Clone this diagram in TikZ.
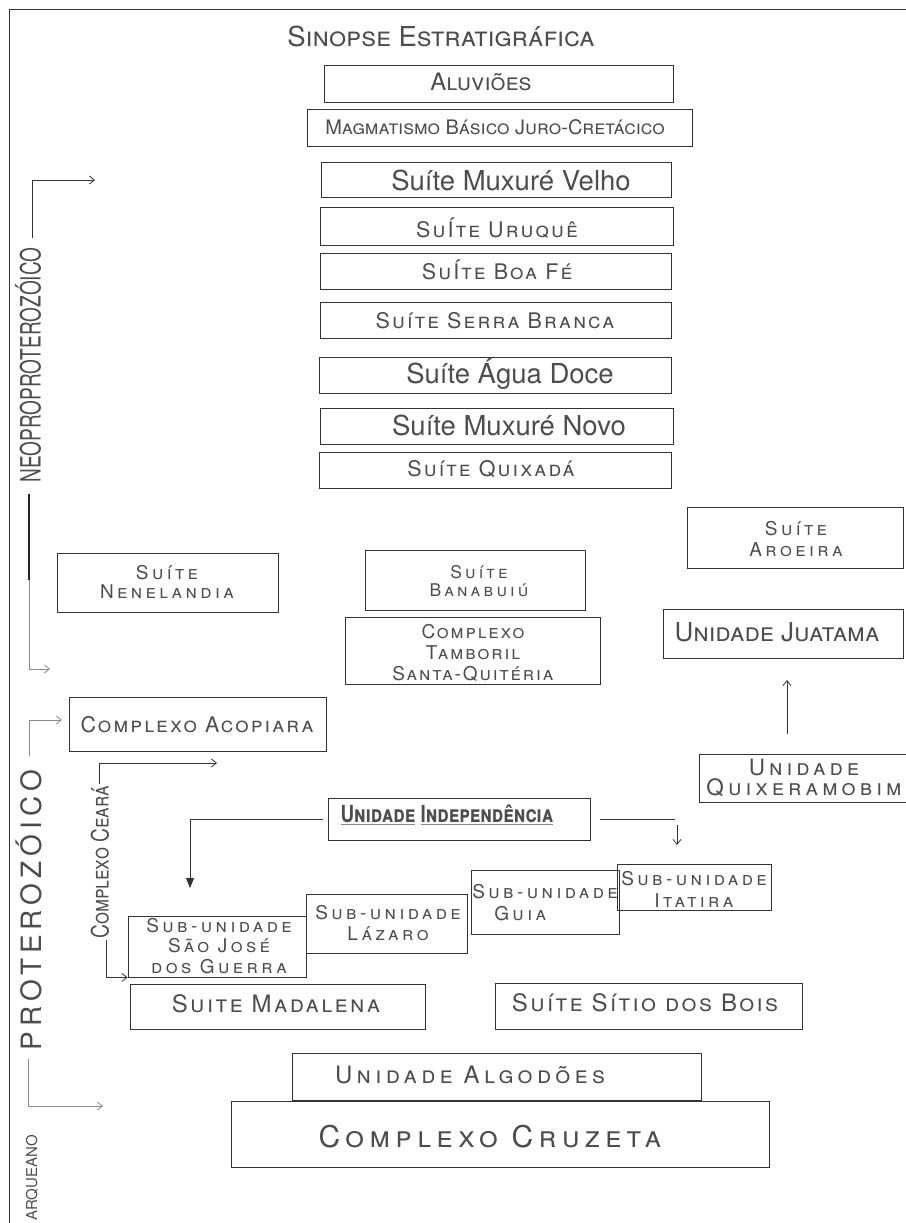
\documentclass[tikz,border=0pt]{standalone}
\usepackage{fontspec}
\usepackage{graphicx}
\setmainfont{TeX Gyre Heros}
\newfontfamily\narrow[FakeStretch=0.8]{TeX Gyre Heros}
\newfontfamily\wide[LetterSpace=10]{TeX Gyre Heros}
\newfontfamily\wider[LetterSpace=18]{TeX Gyre Heros}
\usetikzlibrary{arrows.meta}
\definecolor{boxc}{HTML}{333333}
\definecolor{txtc}{HTML}{4D4D4D}
\definecolor{linec}{HTML}{333333}
\definecolor{grayl}{HTML}{8A8A8A}
\newcommand\fs[2]{\fontsize{#1}{#2}\selectfont}
\newcommand\ulg[1]{{\color{grayl}\underline{\textcolor{txtc}{#1}}}}
\newcommand\mybox[6][]{%
  \node[box,minimum width={#5pt-#3pt},minimum height={#6pt-#4pt},#1]
    (#2) at ({(#3+#5)/2},{(#4+#6)/2}) {};}
\tikzset{
  box/.style={draw=boxc,line width=0.8pt,inner sep=0pt,fill=none},
  lbl/.style={text=txtc,inner sep=0pt,align=center},
  conn/.style={draw=linec,line width=0.8pt},
  barb/.style={-{Straight Barb[length=5pt,width=8pt]}},
  tri/.style={-{Triangle[length=10pt,width=8pt]}},
}
\begin{document}
\begin{tikzpicture}[x=1pt,y=-1pt]
\useasboundingbox (0,0) rectangle (905,1223);
\draw[boxc,line width=1pt] (9,1230) -- (9,9.5) -- (910,9.5);

% title
\node[lbl,font=\scshape\fs{27.5}{30}] (title) at (441,36) {Sinopse Estratigráfica};

% stacked boxes
\mybox{alu}{324}{65}{673}{102}
\node[lbl,font=\scshape\fs{24}{26}] (alut) at (481,82) {Aluviões};
\mybox{mag}{307}{109}{692}{146}
\node[lbl,font=\scshape\fs{20}{22}] (magt) at (495,127) {Magmatismo Básico Juro-Cretácico};
\mybox{mv}{321}{162}{671}{197}
\node[lbl,font=\fs{27.5}{30}] (mvt) at (511,180) {Suíte Muxuré Velho};
\mybox{uru}{320}{207}{673}{245}
\node[lbl,font=\wide\scshape\fs{21.5}{24}] (urut) at (497,228) {SuÍte Uruquê};
\mybox{boa}{320}{253}{671}{289}
\node[lbl,font=\wide\scshape\fs{21.5}{24}] (boat) at (497,270) {SuÍte Boa Fé};
\mybox{ser}{320}{302}{671}{338}
\node[lbl,font=\wide\scshape\fs{21.5}{24}] (sert) at (495,321) {Suíte Serra Branca};
\mybox{agua}{319}{357}{671}{393}
\node[lbl,font=\fs{27.5}{30}] (aguat) at (510,374) {Suíte Água Doce};
\mybox{mn}{320}{408}{673}{444}
\node[lbl,font=\fs{27.5}{30}] (mnt) at (509,425) {Suíte Muxuré Novo};
\mybox{qui}{319}{452}{671}{488}
\node[lbl,font=\wide\scshape\fs{21.5}{24}] (quit) at (491,469) {Suíte Quixadá};

% middle band
\mybox{nen}{57}{553}{278}{612}
\node[lbl,font=\wider\scshape\fs{19}{19}] (nent) at (167,582) {Suíte\\Nenelandia};
\mybox{ban}{365}{550}{585}{610}
\node[lbl,font=\wider\scshape\fs{17.5}{18}] (bant) at (479,581) {Suíte\\Banabuiú};
\mybox{tam}{345}{617}{600}{684}
\node[lbl,font=\wide\scshape\fs{19}{21}] (tamt) at (473,653) {Complexo\\Tamboril\\Santa-Quitéria};
\mybox{aro}{687}{507}{903}{568}
\node[lbl,font=\wider\scshape\fs{19}{21}] (arot) at (796,539) {Suíte\\Aroeira};
\mybox{jua}{663}{609}{903}{658}
\node[lbl,font=\scshape\fs{26}{28}] (juat) at (777,632) {Unidade Juatama};
\mybox{aco}{69}{697}{326}{751}
\node[lbl,font=\wide\scshape\fs{21.5}{24}] (acot) at (197,725) {Complexo Acopiara};
\mybox{qxb}{699}{754}{908}{802}
\node[lbl,font=\wider\scshape\fs{22.5}{20}] (qxbt) at (804,778) {Unidade\\Quixeramobim};
\mybox{ind}{328}{798}{590}{840}
\node[lbl,font=\narrow\bfseries\scshape\fs{23.5}{26}] (indt) at (447,815) {\ulg{Unidade} \ulg{Independência}};

% sub-unidades
\mybox{sj}{128}{916}{306}{977}
\node[lbl,font=\wider\scshape\fs{19}{20.5}] (sjt) at (219,946) {Sub-unidade\\São José\\dos Guerra};
\mybox{laz}{306}{894}{467}{953}
\node[lbl,font=\wider\scshape\fs{19}{21}] (lazt) at (388,923) {Sub-unidade\\Lázaro};
\mybox{guia}{471}{870}{619}{934}
\node[lbl,align=left,font=\wider\scshape\fs{19}{22}] (guiat) at (545,903) {Sub-unidade\\\hspace*{22pt}Guia};
\mybox{ita}{617}{864}{771}{910}
\node[lbl,font=\wider\scshape\fs{19}{22}] (itat) at (694,889) {Sub-unidade\\Itatira};

% lower
\mybox{mad}{130}{984}{425}{1029}
\node[lbl,font=\wide\scshape\fs{24}{26}] (madt) at (276,1004) {Suite Madalena};
\mybox{sit}{495}{983}{802}{1029}
\node[lbl,font=\wide\scshape\fs{24}{26}] (sitt) at (645,1003) {Suíte Sítio dos Bois};
\mybox{alg}{292}{1053}{701}{1100}
\node[lbl,font=\wider\scshape\fs{24}{26}] (algt) at (470,1075) {Unidade Algodões};
\mybox{cru}{231}{1101}{769}{1167}
\node[lbl,font=\wider\scshape\fs{30}{32}] (crut) at (490,1137) {Complexo Cruzeta};

% vertical era labels
\node[lbl,rotate=90] (neo) at (28,365) {\scalebox{0.68}[1]{\fs{28}{30}NEOPROPROTEROZÓICO}};
\node[lbl,rotate=90,font=\wider\fs{28}{30}] (pro) at (29,910) {PROTEROZÓICO};
\node[lbl,rotate=90,font=\fs{15}{18}] (arq) at (32,1178) {ARQUEANO};
\node[lbl,rotate=90,font=\narrow\scshape\fs{24}{26}] (cea) at (100,862) {Complexo Ceará};

% brackets
\coordinate (n1) at (32,238); \coordinate (n1e) at (95,180);
\draw[conn,barb] (n1) |- (n1e);
\coordinate (n2) at (29,494); \coordinate (n2m) at (29,580); \coordinate (n2e) at (50,669);
\draw[draw=black!85,line width=1.4pt] (n2) -- (n2m);
\draw[conn,draw=grayl,barb] (n2m) |- (n2e);
\coordinate (p1) at (29,756); \coordinate (p1e) at (62,720);
\draw[conn,draw=grayl,barb] (p1) |- (p1e);
\coordinate (p2) at (28,1059); \coordinate (p2e) at (103,1106);
\draw[conn,draw=grayl,barb] (p2) |- (p2e);
\coordinate (c1) at (99,784); \coordinate (c1e) at (217,763);
\draw[conn,barb] (c1) |- (c1e);
\coordinate (c2) at (106,940);
\draw[conn,barb] (c2) |- (sj.south west);

% independencia connectors
\coordinate (il) at (190,888);
\draw[conn,tri] ([xshift=-5pt]ind.west) -| (il);
\coordinate (ir) at (675,819);
\draw[conn] ([xshift=10pt]ind.east) -- (ir);
\coordinate (ia) at (677,825); \coordinate (ib) at (677,845);
\draw[conn,barb] (ia) -- (ib);
% quixeramobim to juatama
\coordinate (qa) at (787,734); \coordinate (qb) at (787,680);
\draw[conn,barb] (qa) -- (qb);
\end{tikzpicture}
\end{document}
